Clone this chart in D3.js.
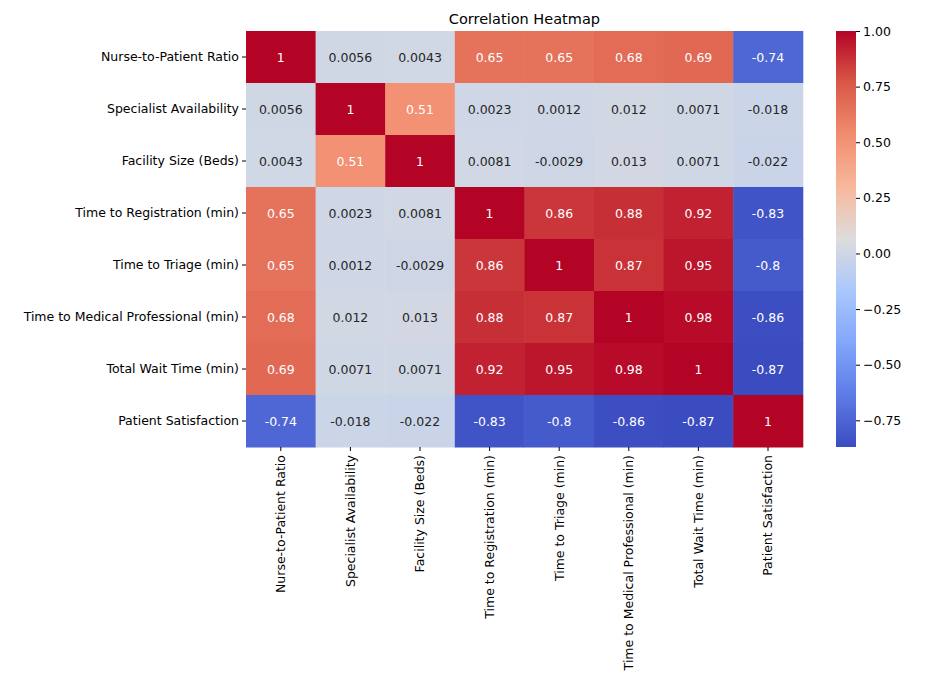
<!DOCTYPE html>
<html><head><meta charset="utf-8">
<script src="https://cdn.jsdelivr.net/npm/d3@7"></script>
<style>body{margin:0;background:#fff;font-family:"DejaVu Sans",sans-serif}</style>
</head><body><div id="chart"></div>
<script>
var labels = ["Nurse-to-Patient Ratio","Specialist Availability","Facility Size (Beds)","Time to Registration (min)","Time to Triage (min)","Time to Medical Professional (min)","Total Wait Time (min)","Patient Satisfaction"];
var corr = [
 [1,0.0056,0.0043,0.65,0.65,0.68,0.69,-0.74],
 [0.0056,1,0.51,0.0023,0.0012,0.012,0.0071,-0.018],
 [0.0043,0.51,1,0.0081,-0.0029,0.013,0.0071,-0.022],
 [0.65,0.0023,0.0081,1,0.86,0.88,0.92,-0.83],
 [0.65,0.0012,-0.0029,0.86,1,0.87,0.95,-0.8],
 [0.68,0.012,0.013,0.88,0.87,1,0.98,-0.86],
 [0.69,0.0071,0.0071,0.92,0.95,0.98,1,-0.87],
 [-0.74,-0.018,-0.022,-0.83,-0.8,-0.86,-0.87,1]
];
var cbTicks = [1,0.75,0.5,0.25,0,-0.25,-0.5,-0.75];
var vmin = -0.87, vmax = 1;

(function(){
var W = 941, H = 680, left0 = 246, top0 = 31, cw = 69.6, ch = 52;
var svg = d3.select("#chart").append("svg").attr("width",W).attr("height",H);

var stops = ["#3b4cc0","#5d7ce6","#82a6fb","#aac7fd","#dddcdc","#f7b89c","#f18d6f","#d95847","#b40426"];
var cmap = d3.scaleLinear().domain(d3.range(9).map(function(i){return i/8;})).range(stops).interpolate(d3.interpolateRgb);
var norm = d3.scaleLinear().domain([vmin,vmax]).range([0,1]).clamp(true);
function color(v){ return cmap(norm(v)); }

var x = d3.scaleBand().domain(labels).range([left0,left0+8*cw]);
var y = d3.scaleBand().domain(labels).range([top0,top0+8*ch]);

function fmt(v){ return v===1 ? "1" : String(+v.toPrecision(2)); }
function lum(c){
  c = d3.rgb(c);
  var f = function(u){u/=255; return u<=0.03928? u/12.92 : Math.pow((u+0.055)/1.055,2.4);};
  return 0.2126*f(c.r)+0.7152*f(c.g)+0.0722*f(c.b);
}

var cells = [];
corr.forEach(function(row,i){ row.forEach(function(v,j){ cells.push({r:labels[i],c:labels[j],v:v}); }); });

svg.selectAll("rect.cell").data(cells).enter().append("rect")
  .attr("x",function(d){return x(d.c);}).attr("y",function(d){return y(d.r);})
  .attr("width",x.bandwidth()+0.5).attr("height",y.bandwidth()+0.5)
  .attr("fill",function(d){return color(d.v);});

svg.selectAll("text.val").data(cells).enter().append("text")
  .attr("x",function(d){return x(d.c)+x.bandwidth()/2;})
  .attr("y",function(d){return y(d.r)+y.bandwidth()/2;})
  .attr("text-anchor","middle").attr("dominant-baseline","central")
  .attr("font-size",12.5)
  .attr("fill",function(d){return lum(color(d.v))>0.408 ? "#262626" : "#fff";})
  .text(function(d){return fmt(d.v);});

var yAxis = svg.append("g").attr("transform","translate("+left0+",0)").call(d3.axisLeft(y).tickSizeOuter(0).tickSize(4));
var xAxis = svg.append("g").attr("transform","translate(0,"+(top0+8*ch)+")").call(d3.axisBottom(x).tickSizeOuter(0).tickSize(4));
yAxis.select(".domain").remove(); xAxis.select(".domain").remove();
yAxis.selectAll("text").attr("font-size",12.5).attr("font-family","DejaVu Sans").attr("fill","#000");
xAxis.selectAll("text").attr("font-size",12.5).attr("font-family","DejaVu Sans").attr("fill","#000")
  .attr("transform","rotate(-90)").attr("text-anchor","end").attr("x",-8).attr("y",0).attr("dy","0.35em");

svg.append("text").attr("x",left0+4*cw).attr("y",24).attr("text-anchor","middle").attr("font-size",14.5).text("Correlation Heatmap");

// colorbar
var cbx = 836, cbw = 20, cbh = 8*ch;
var grad = svg.append("defs").append("linearGradient").attr("id","cb").attr("x1",0).attr("y1",1).attr("x2",0).attr("y2",0);
stops.forEach(function(s,i){ grad.append("stop").attr("offset",(i/8*100)+"%").attr("stop-color",s); });
svg.append("rect").attr("x",cbx).attr("y",top0).attr("width",cbw).attr("height",cbh).attr("fill","url(#cb)");
var cy = d3.scaleLinear().domain([vmin,vmax]).range([top0+cbh,top0]);
var cbAxis = svg.append("g").attr("transform","translate("+(cbx+cbw)+",0)")
  .call(d3.axisRight(cy).tickValues(cbTicks).tickFormat(d3.format(".2f")).tickSize(4).tickSizeOuter(0));
cbAxis.select(".domain").remove();
cbAxis.selectAll("text").attr("font-size",12.5).attr("font-family","DejaVu Sans").attr("fill","#000");
})();
</script></body></html>
